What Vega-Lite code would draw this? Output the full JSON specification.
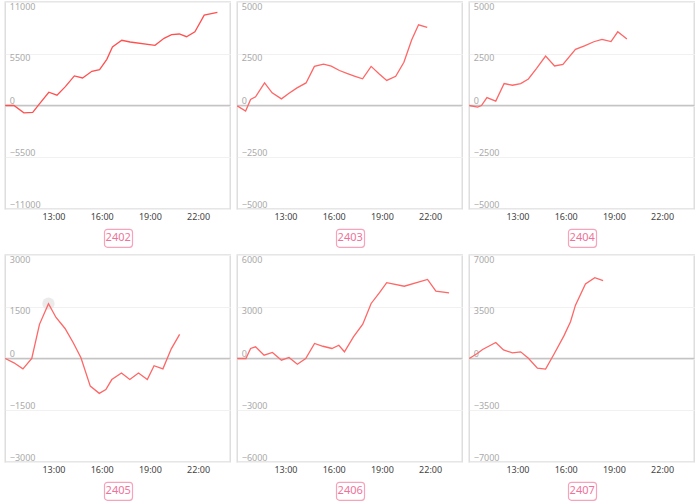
{
  "$schema": "https://vega.github.io/schema/vega-lite/v6.json",
  "padding": {"left": 1, "top": 1, "right": 0, "bottom": 0},
  "background": "white",
  "config": {
    "font": "Noto Sans",
    "view": {"stroke": "#dedede", "strokeWidth": 1.5},
    "axis": {"ticks": false, "tickSize": 0, "domain": false, "title": null, "minExtent": 0},
    "axisY": {"minExtent": 0},
    "axisX": {"minExtent": 0}
  },
  "datasets": {
    "pts": [
      {"panel": "2402", "hour": 10.0, "value": 0},
      {"panel": "2402", "hour": 10.54, "value": 0},
      {"panel": "2402", "hour": 11.16, "value": -780},
      {"panel": "2402", "hour": 11.71, "value": -740},
      {"panel": "2402", "hour": 12.09, "value": 100},
      {"panel": "2402", "hour": 12.71, "value": 1410},
      {"panel": "2402", "hour": 13.22, "value": 1100},
      {"panel": "2402", "hour": 13.74, "value": 2010},
      {"panel": "2402", "hour": 14.3, "value": 3150},
      {"panel": "2402", "hour": 14.81, "value": 2930},
      {"panel": "2402", "hour": 15.39, "value": 3640},
      {"panel": "2402", "hour": 15.87, "value": 3820},
      {"panel": "2402", "hour": 16.32, "value": 4910},
      {"panel": "2402", "hour": 16.67, "value": 6220},
      {"panel": "2402", "hour": 17.25, "value": 6930},
      {"panel": "2402", "hour": 17.77, "value": 6750},
      {"panel": "2402", "hour": 19.32, "value": 6400},
      {"panel": "2402", "hour": 19.88, "value": 7140},
      {"panel": "2402", "hour": 20.35, "value": 7530},
      {"panel": "2402", "hour": 20.83, "value": 7600},
      {"panel": "2402", "hour": 21.28, "value": 7310},
      {"panel": "2402", "hour": 21.8, "value": 7840},
      {"panel": "2402", "hour": 22.38, "value": 9610},
      {"panel": "2402", "hour": 23.2, "value": 9890},

      {"panel": "2403", "hour": 10.0, "value": -20},
      {"panel": "2403", "hour": 10.52, "value": -270},
      {"panel": "2403", "hour": 10.83, "value": 290},
      {"panel": "2403", "hour": 11.14, "value": 420},
      {"panel": "2403", "hour": 11.7, "value": 1090},
      {"panel": "2403", "hour": 12.17, "value": 610},
      {"panel": "2403", "hour": 12.75, "value": 320},
      {"panel": "2403", "hour": 13.2, "value": 580},
      {"panel": "2403", "hour": 13.72, "value": 850},
      {"panel": "2403", "hour": 14.28, "value": 1090},
      {"panel": "2403", "hour": 14.8, "value": 1890},
      {"panel": "2403", "hour": 15.37, "value": 2000},
      {"panel": "2403", "hour": 15.85, "value": 1900},
      {"panel": "2403", "hour": 16.36, "value": 1690},
      {"panel": "2403", "hour": 16.82, "value": 1550},
      {"panel": "2403", "hour": 17.33, "value": 1410},
      {"panel": "2403", "hour": 17.8, "value": 1290},
      {"panel": "2403", "hour": 18.33, "value": 1890},
      {"panel": "2403", "hour": 18.82, "value": 1530},
      {"panel": "2403", "hour": 19.3, "value": 1210},
      {"panel": "2403", "hour": 19.86, "value": 1410},
      {"panel": "2403", "hour": 20.37, "value": 2090},
      {"panel": "2403", "hour": 20.85, "value": 3160},
      {"panel": "2403", "hour": 21.28, "value": 3900},
      {"panel": "2403", "hour": 21.82, "value": 3770},

      {"panel": "2404", "hour": 10.0, "value": 0},
      {"panel": "2404", "hour": 10.52, "value": -80},
      {"panel": "2404", "hour": 10.76, "value": 0},
      {"panel": "2404", "hour": 11.1, "value": 380},
      {"panel": "2404", "hour": 11.65, "value": 210},
      {"panel": "2404", "hour": 12.17, "value": 1060},
      {"panel": "2404", "hour": 12.69, "value": 980},
      {"panel": "2404", "hour": 13.2, "value": 1060},
      {"panel": "2404", "hour": 13.68, "value": 1280},
      {"panel": "2404", "hour": 14.19, "value": 1790},
      {"panel": "2404", "hour": 14.75, "value": 2390},
      {"panel": "2404", "hour": 15.31, "value": 1910},
      {"panel": "2404", "hour": 15.83, "value": 1990},
      {"panel": "2404", "hour": 16.61, "value": 2710},
      {"panel": "2404", "hour": 17.17, "value": 2880},
      {"panel": "2404", "hour": 17.75, "value": 3080},
      {"panel": "2404", "hour": 18.26, "value": 3190},
      {"panel": "2404", "hour": 18.82, "value": 3090},
      {"panel": "2404", "hour": 19.24, "value": 3560},
      {"panel": "2404", "hour": 19.81, "value": 3210},

      {"panel": "2405", "hour": 10.0, "value": 0},
      {"panel": "2405", "hour": 10.54, "value": -125},
      {"panel": "2405", "hour": 11.1, "value": -300},
      {"panel": "2405", "hour": 11.65, "value": 0},
      {"panel": "2405", "hour": 12.13, "value": 990},
      {"panel": "2405", "hour": 12.69, "value": 1590},
      {"panel": "2405", "hour": 13.16, "value": 1190},
      {"panel": "2405", "hour": 13.72, "value": 870},
      {"panel": "2405", "hour": 14.24, "value": 450},
      {"panel": "2405", "hour": 14.71, "value": 20},
      {"panel": "2405", "hour": 15.29, "value": -800},
      {"panel": "2405", "hour": 15.85, "value": -1010},
      {"panel": "2405", "hour": 16.26, "value": -900},
      {"panel": "2405", "hour": 16.63, "value": -610},
      {"panel": "2405", "hour": 17.23, "value": -420},
      {"panel": "2405", "hour": 17.75, "value": -610},
      {"panel": "2405", "hour": 18.29, "value": -420},
      {"panel": "2405", "hour": 18.84, "value": -610},
      {"panel": "2405", "hour": 19.26, "value": -210},
      {"panel": "2405", "hour": 19.81, "value": -300},
      {"panel": "2405", "hour": 20.33, "value": 280},
      {"panel": "2405", "hour": 20.85, "value": 700},

      {"panel": "2406", "hour": 10.0, "value": 0},
      {"panel": "2406", "hour": 10.54, "value": 0},
      {"panel": "2406", "hour": 10.83, "value": 580},
      {"panel": "2406", "hour": 11.14, "value": 680},
      {"panel": "2406", "hour": 11.67, "value": 190},
      {"panel": "2406", "hour": 12.19, "value": 350},
      {"panel": "2406", "hour": 12.75, "value": -100},
      {"panel": "2406", "hour": 13.22, "value": 60},
      {"panel": "2406", "hour": 13.74, "value": -330},
      {"panel": "2406", "hour": 14.26, "value": 0},
      {"panel": "2406", "hour": 14.81, "value": 870},
      {"panel": "2406", "hour": 15.33, "value": 710},
      {"panel": "2406", "hour": 15.89, "value": 580},
      {"panel": "2406", "hour": 16.32, "value": 770},
      {"panel": "2406", "hour": 16.67, "value": 390},
      {"panel": "2406", "hour": 17.23, "value": 1250},
      {"panel": "2406", "hour": 17.81, "value": 1990},
      {"panel": "2406", "hour": 18.33, "value": 3190},
      {"panel": "2406", "hour": 18.84, "value": 3800},
      {"panel": "2406", "hour": 19.3, "value": 4400},
      {"panel": "2406", "hour": 20.39, "value": 4190},
      {"panel": "2406", "hour": 21.84, "value": 4580},
      {"panel": "2406", "hour": 22.36, "value": 3900},
      {"panel": "2406", "hour": 23.18, "value": 3800},

      {"panel": "2407", "hour": 10.0, "value": 0},
      {"panel": "2407", "hour": 10.52, "value": 360},
      {"panel": "2407", "hour": 10.83, "value": 610},
      {"panel": "2407", "hour": 11.65, "value": 1080},
      {"panel": "2407", "hour": 12.13, "value": 580},
      {"panel": "2407", "hour": 12.69, "value": 380},
      {"panel": "2407", "hour": 13.2, "value": 450},
      {"panel": "2407", "hour": 13.68, "value": 20},
      {"panel": "2407", "hour": 14.24, "value": -650},
      {"panel": "2407", "hour": 14.75, "value": -720},
      {"panel": "2407", "hour": 15.27, "value": 290},
      {"panel": "2407", "hour": 15.89, "value": 1530},
      {"panel": "2407", "hour": 16.3, "value": 2490},
      {"panel": "2407", "hour": 16.61, "value": 3610},
      {"panel": "2407", "hour": 17.23, "value": 5040},
      {"panel": "2407", "hour": 17.81, "value": 5470},
      {"panel": "2407", "hour": 18.33, "value": 5270}
    ]
  },
  "vconcat": [
    {
      "hconcat": [
        {
          "center": true, "spacing": 6,
          "vconcat": [
            {
              "width": 225, "height": 207,
              "layer": [
                {"data": {"values": [{}]}, "mark": {"type": "rule", "color": "#c4c4c4", "strokeWidth": 1.5}, "encoding": {"y": {"datum": 0, "type": "quantitative"}}},
                {
                  "data": {"name": "pts"},
                  "transform": [{"filter": "datum.panel === '2402'"}],
                  "mark": {"type": "line", "color": "#ff5050", "strokeWidth": 1.3},
                  "encoding": {
                    "x": {"field": "hour", "type": "quantitative", "scale": {"domain": [10, 24], "nice": false}, "axis": {"values": [13, 16, 19, 22], "labelExpr": "datum.value + ':00'", "grid": false, "labelFontSize": 9, "labelColor": "#444", "labelPadding": 3}},
                    "y": {"field": "value", "type": "quantitative", "scale": {"domain": [-11000, 11000], "nice": false}, "axis": {"values": [-11000, -8250, -5500, -2750, 0, 2750, 5500, 8250, 11000], "labelExpr": "datum.value % 5500 === 0 ? format(datum.value, 'd') : ''", "grid": true, "gridColor": "#f1f1f1", "labelAlign": "left", "labelPadding": -4, "labelBaseline": {"condition": {"test": "datum.value > 0", "value": "top"}, "value": "bottom"}, "labelFontSize": 9, "labelColor": "#aaa"}}
                  }
                }
              ]
            },
            {"width": 28, "height": 18, "view": {"stroke": "#f6a3bb", "strokeWidth": 1.2, "cornerRadius": 3}, "data": {"values": [{"label": "2402"}]}, "mark": {"type": "text", "color": "#f0729a", "fontSize": 11}, "encoding": {"text": {"field": "label"}}}
          ]
        },
        {
          "center": true, "spacing": 6,
          "vconcat": [
            {
              "width": 225, "height": 207,
              "layer": [
                {"data": {"values": [{}]}, "mark": {"type": "rule", "color": "#c4c4c4", "strokeWidth": 1.5}, "encoding": {"y": {"datum": 0, "type": "quantitative"}}},
                {
                  "data": {"name": "pts"},
                  "transform": [{"filter": "datum.panel === '2403'"}],
                  "mark": {"type": "line", "color": "#ff6666", "strokeWidth": 1.3},
                  "encoding": {
                    "x": {"field": "hour", "type": "quantitative", "scale": {"domain": [10, 24], "nice": false}, "axis": {"values": [13, 16, 19, 22], "labelExpr": "datum.value + ':00'", "grid": false, "labelFontSize": 9, "labelColor": "#444", "labelPadding": 3}},
                    "y": {"field": "value", "type": "quantitative", "scale": {"domain": [-5000, 5000], "nice": false}, "axis": {"values": [-5000, -3750, -2500, -1250, 0, 1250, 2500, 3750, 5000], "labelExpr": "datum.value % 2500 === 0 ? format(datum.value, 'd') : ''", "grid": true, "gridColor": "#f1f1f1", "labelAlign": "left", "labelPadding": -4, "labelBaseline": {"condition": {"test": "datum.value > 0", "value": "top"}, "value": "bottom"}, "labelFontSize": 9, "labelColor": "#aaa"}}
                  }
                }
              ]
            },
            {"width": 28, "height": 18, "view": {"stroke": "#f6a3bb", "strokeWidth": 1.2, "cornerRadius": 3}, "data": {"values": [{"label": "2403"}]}, "mark": {"type": "text", "color": "#f0729a", "fontSize": 11}, "encoding": {"text": {"field": "label"}}}
          ]
        },
        {
          "center": true, "spacing": 6,
          "vconcat": [
            {
              "width": 225, "height": 207,
              "layer": [
                {"data": {"values": [{}]}, "mark": {"type": "rule", "color": "#c4c4c4", "strokeWidth": 1.5}, "encoding": {"y": {"datum": 0, "type": "quantitative"}}},
                {
                  "data": {"name": "pts"},
                  "transform": [{"filter": "datum.panel === '2404'"}],
                  "mark": {"type": "line", "color": "#ff6666", "strokeWidth": 1.3},
                  "encoding": {
                    "x": {"field": "hour", "type": "quantitative", "scale": {"domain": [10, 24], "nice": false}, "axis": {"values": [13, 16, 19, 22], "labelExpr": "datum.value + ':00'", "grid": false, "labelFontSize": 9, "labelColor": "#444", "labelPadding": 3}},
                    "y": {"field": "value", "type": "quantitative", "scale": {"domain": [-5000, 5000], "nice": false}, "axis": {"values": [-5000, -3750, -2500, -1250, 0, 1250, 2500, 3750, 5000], "labelExpr": "datum.value % 2500 === 0 ? format(datum.value, 'd') : ''", "grid": true, "gridColor": "#f1f1f1", "labelAlign": "left", "labelPadding": -4, "labelBaseline": {"condition": {"test": "datum.value > 0", "value": "top"}, "value": "bottom"}, "labelFontSize": 9, "labelColor": "#aaa"}}
                  }
                }
              ]
            },
            {"width": 28, "height": 18, "view": {"stroke": "#f6a3bb", "strokeWidth": 1.2, "cornerRadius": 3}, "data": {"values": [{"label": "2404"}]}, "mark": {"type": "text", "color": "#f0729a", "fontSize": 11}, "encoding": {"text": {"field": "label"}}}
          ]
        }
      ],
      "spacing": 1
    },
    {
      "hconcat": [
        {
          "center": true, "spacing": 6,
          "vconcat": [
            {
              "width": 225, "height": 207,
              "layer": [
                {"data": {"values": [{}]}, "mark": {"type": "rule", "color": "#c4c4c4", "strokeWidth": 1.5}, "encoding": {"y": {"datum": 0, "type": "quantitative"}}},
                {
                  "data": {"name": "pts"},
                  "transform": [{"filter": "datum.panel === '2405' && datum.hour === 12.69"}],
                  "mark": {"type": "circle", "color": "#e6e6e6", "opacity": 0.8, "size": 150},
                  "encoding": {
                    "x": {"field": "hour", "type": "quantitative", "scale": {"domain": [10, 24], "nice": false}},
                    "y": {"field": "value", "type": "quantitative", "scale": {"domain": [-3000, 3000], "nice": false}}
                  }
                },
                {
                  "data": {"name": "pts"},
                  "transform": [{"filter": "datum.panel === '2405'"}],
                  "mark": {"type": "line", "color": "#ff6666", "strokeWidth": 1.3},
                  "encoding": {
                    "x": {"field": "hour", "type": "quantitative", "scale": {"domain": [10, 24], "nice": false}, "axis": {"values": [13, 16, 19, 22], "labelExpr": "datum.value + ':00'", "grid": false, "labelFontSize": 9, "labelColor": "#444", "labelPadding": 3}},
                    "y": {"field": "value", "type": "quantitative", "scale": {"domain": [-3000, 3000], "nice": false}, "axis": {"values": [-3000, -2250, -1500, -750, 0, 750, 1500, 2250, 3000], "labelExpr": "datum.value % 1500 === 0 ? format(datum.value, 'd') : ''", "grid": true, "gridColor": "#f1f1f1", "labelAlign": "left", "labelPadding": -4, "labelBaseline": {"condition": {"test": "datum.value > 0", "value": "top"}, "value": "bottom"}, "labelFontSize": 9, "labelColor": "#aaa"}}
                  }
                }
              ]
            },
            {"width": 28, "height": 18, "view": {"stroke": "#f6a3bb", "strokeWidth": 1.2, "cornerRadius": 3}, "data": {"values": [{"label": "2405"}]}, "mark": {"type": "text", "color": "#f0729a", "fontSize": 11}, "encoding": {"text": {"field": "label"}}}
          ]
        },
        {
          "center": true, "spacing": 6,
          "vconcat": [
            {
              "width": 225, "height": 207,
              "layer": [
                {"data": {"values": [{}]}, "mark": {"type": "rule", "color": "#c4c4c4", "strokeWidth": 1.5}, "encoding": {"y": {"datum": 0, "type": "quantitative"}}},
                {
                  "data": {"name": "pts"},
                  "transform": [{"filter": "datum.panel === '2406'"}],
                  "mark": {"type": "line", "color": "#ff6666", "strokeWidth": 1.3},
                  "encoding": {
                    "x": {"field": "hour", "type": "quantitative", "scale": {"domain": [10, 24], "nice": false}, "axis": {"values": [13, 16, 19, 22], "labelExpr": "datum.value + ':00'", "grid": false, "labelFontSize": 9, "labelColor": "#444", "labelPadding": 3}},
                    "y": {"field": "value", "type": "quantitative", "scale": {"domain": [-6000, 6000], "nice": false}, "axis": {"values": [-6000, -4500, -3000, -1500, 0, 1500, 3000, 4500, 6000], "labelExpr": "datum.value % 3000 === 0 ? format(datum.value, 'd') : ''", "grid": true, "gridColor": "#f1f1f1", "labelAlign": "left", "labelPadding": -4, "labelBaseline": {"condition": {"test": "datum.value > 0", "value": "top"}, "value": "bottom"}, "labelFontSize": 9, "labelColor": "#aaa"}}
                  }
                }
              ]
            },
            {"width": 28, "height": 18, "view": {"stroke": "#f6a3bb", "strokeWidth": 1.2, "cornerRadius": 3}, "data": {"values": [{"label": "2406"}]}, "mark": {"type": "text", "color": "#f0729a", "fontSize": 11}, "encoding": {"text": {"field": "label"}}}
          ]
        },
        {
          "center": true, "spacing": 6,
          "vconcat": [
            {
              "width": 225, "height": 207,
              "layer": [
                {"data": {"values": [{}]}, "mark": {"type": "rule", "color": "#c4c4c4", "strokeWidth": 1.5}, "encoding": {"y": {"datum": 0, "type": "quantitative"}}},
                {
                  "data": {"name": "pts"},
                  "transform": [{"filter": "datum.panel === '2407'"}],
                  "mark": {"type": "line", "color": "#ff6666", "strokeWidth": 1.3},
                  "encoding": {
                    "x": {"field": "hour", "type": "quantitative", "scale": {"domain": [10, 24], "nice": false}, "axis": {"values": [13, 16, 19, 22], "labelExpr": "datum.value + ':00'", "grid": false, "labelFontSize": 9, "labelColor": "#444", "labelPadding": 3}},
                    "y": {"field": "value", "type": "quantitative", "scale": {"domain": [-7000, 7000], "nice": false}, "axis": {"values": [-7000, -5250, -3500, -1750, 0, 1750, 3500, 5250, 7000], "labelExpr": "datum.value % 3500 === 0 ? format(datum.value, 'd') : ''", "grid": true, "gridColor": "#f1f1f1", "labelAlign": "left", "labelPadding": -4, "labelBaseline": {"condition": {"test": "datum.value > 0", "value": "top"}, "value": "bottom"}, "labelFontSize": 9, "labelColor": "#aaa"}}
                  }
                }
              ]
            },
            {"width": 28, "height": 18, "view": {"stroke": "#f6a3bb", "strokeWidth": 1.2, "cornerRadius": 3}, "data": {"values": [{"label": "2407"}]}, "mark": {"type": "text", "color": "#f0729a", "fontSize": 11}, "encoding": {"text": {"field": "label"}}}
          ]
        }
      ],
      "spacing": 1
    }
  ],
  "spacing": 6
}
